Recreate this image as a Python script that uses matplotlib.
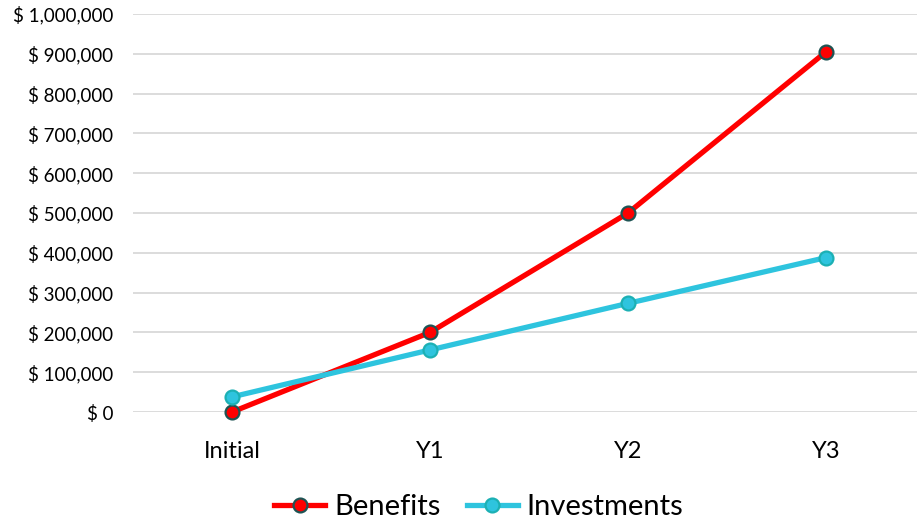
import matplotlib.pyplot as plt
from matplotlib.ticker import FuncFormatter
import numpy as np

# Data
categories = ['Initial', 'Y1', 'Y2', 'Y3']
benefits = [0, 200000, 500000, 905000]
investments = [38000, 156000, 273000, 388000]
y_ticks = np.arange(0, 1000001, 100000)

plt.rcParams['font.family'] = ['Lato', 'DejaVu Sans']

fig = plt.figure(figsize=(9.17, 5.23), dpi=100)
ax = fig.add_axes([0.145, 0.2122, 0.8637, 0.761])

x = np.arange(len(categories))
ax.plot(x, benefits, color='#FF0000', lw=3.8, marker='o', ms=10,
        mfc='#FF0000', mec='#1E5454', mew=1.6, label='Benefits', zorder=3,
        clip_on=False)
ax.plot(x, investments, color='#2EC4DE', lw=3.8, marker='o', ms=10,
        mfc='#2EC4DE', mec='#1CB0B4', mew=1.6, label='Investments', zorder=3,
        clip_on=False)

ax.set_xlim(-0.5, 3.5)
ax.set_ylim(0, 1000000)
ax.set_yticks(y_ticks)
ax.yaxis.set_major_formatter(FuncFormatter(lambda v, p: f'$ {int(v):,}'))
ax.set_xticks(x)
ax.set_xticklabels(categories)
ax.grid(axis='y', color='#D9D9D9', lw=1.3)
ax.set_axisbelow(True)
for s in ax.spines.values():
    s.set_visible(False)
ax.tick_params(length=0, colors='#000000')
ax.tick_params(axis='y', pad=14, labelsize=13.5)
ax.tick_params(axis='x', pad=21, labelsize=17)

fig.legend(loc='lower center', bbox_to_anchor=(0.522, -0.045), ncol=2, frameon=False,
           fontsize=21, handlelength=1.75, columnspacing=0.9, handletextpad=0.3)

fig.savefig('out.png', dpi=100)
